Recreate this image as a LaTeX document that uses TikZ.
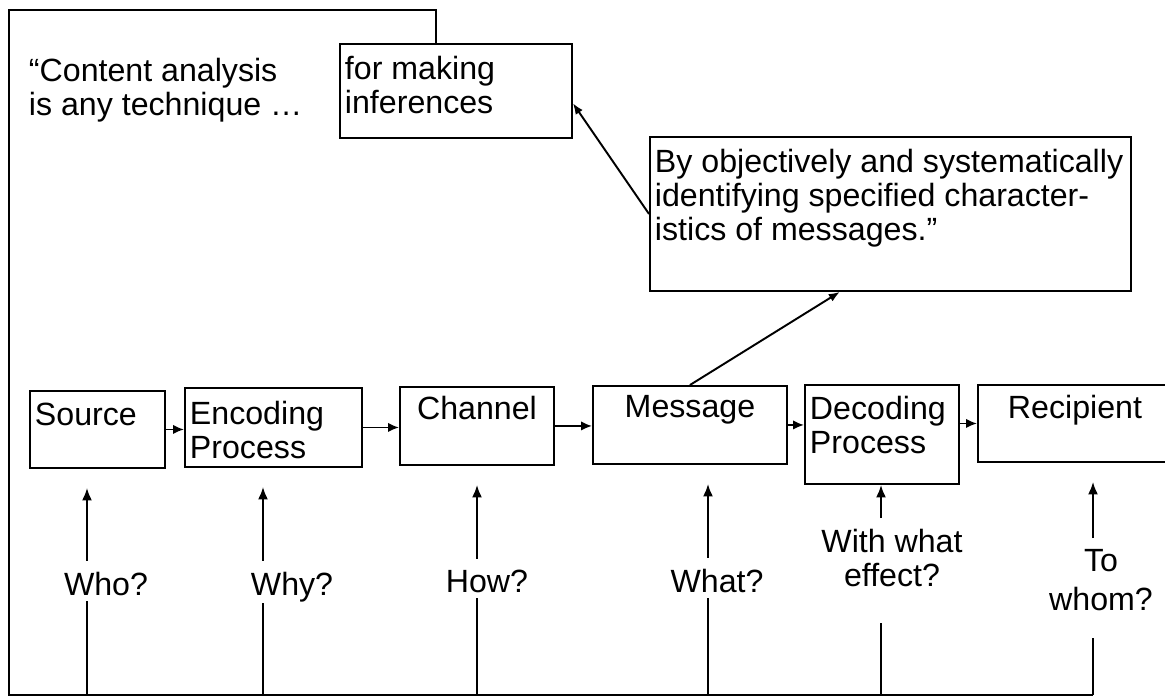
\documentclass[tikz,border=0pt]{standalone}
\usepackage{fontspec}
\setmainfont{Liberation Sans}
\usetikzlibrary{arrows.meta}

\begin{document}
\begin{tikzpicture}[x=0.02cm, y=-0.02cm, line width=1.1pt,
  font=\fontsize{18.3pt}{19.5pt}\selectfont,
  box/.style={draw, anchor=north west, inner sep=0pt},
  txt/.style={inner sep=0pt, align=left, anchor=north west},
  ask/.style={inner sep=0pt, align=center},
  flow/.style={-{Latex[length=0.22cm, width=0.19cm]}},
  tip/.style={-{Latex[length=0.22cm, width=0.17cm]}},
  uparrow/.style={-{Latex[length=0.25cm, width=0.2cm]}, shorten <=0.2cm, shorten >=0.38cm}]
\useasboundingbox (0,0) rectangle (1165,698);
\clip (0,0) rectangle (1165,698);

% quotation boxes
\node[txt] (defn) at (28,57) {“Content analysis\\is any technique \dots};
\node[box, minimum width=4.64cm, minimum height=1.88cm] (mk) at (339,43) {};
\node[txt] (mkt) at ([xshift=0.1cm, yshift=-0.24cm]mk.north west) {for making\\inferences};
\node[box, minimum width=9.62cm, minimum height=3.08cm] (obj) at (649,136) {};
\node[txt] (objt) at ([xshift=0.1cm, yshift=-0.24cm]obj.north west) {By objectively and systematically\\identifying specified character-\\istics of messages.”};

% communication chain
\node[box, minimum width=2.70cm, minimum height=1.54cm] (src) at (29,390) {};
\node[box, minimum width=3.54cm, minimum height=1.58cm] (enc) at (184,387) {};
\node[box, minimum width=3.08cm, minimum height=1.56cm] (chn) at (399,386) {};
\node[box, minimum width=3.88cm, minimum height=1.56cm] (msg) at (592,385) {};
\node[box, minimum width=3.08cm, minimum height=1.98cm] (dec) at (804,384) {};
\node[box, minimum width=4.40cm, minimum height=1.54cm] (rcp) at (977,384) {};
\node[txt] (srct) at ([xshift=0.1cm, yshift=-0.24cm]src.north west) {Source};
\node[txt] (enct) at ([xshift=0.1cm, yshift=-0.26cm]enc.north west) {Encoding\\Process};
\node[txt, anchor=north] (chnt) at ([yshift=-0.18cm]chn.north) {Channel};
\node[txt, anchor=north] (msgt) at ([yshift=-0.18cm]msg.north) {Message};
\node[txt] (dect) at ([xshift=0.1cm, yshift=-0.22cm]dec.north west) {Decoding\\Process};
\node[txt, anchor=north] (rcpt) at ([xshift=-0.26cm, yshift=-0.2cm]rcp.north) {Recipient};

\draw[flow] (src.east) -- (src.east -| enc.west);
\draw[flow] (enc.east) -- (enc.east -| chn.west);
\draw[flow] (chn.east) -- (chn.east -| msg.west);
\draw[flow] (msg.east) -- (msg.east -| dec.west);
\draw[flow] (rcp.west -| dec.east) -- (rcp.west);
\draw[tip] (obj.west) -- (mk.-6);
\draw[tip] (msg.north) -- (obj.237);

% questions
\node[ask, anchor=base] (who) at (106,595) {Who?};
\node[ask, anchor=base] (why) at (292,595) {Why?};
\node[ask, anchor=base] (how) at (487,592) {How?};
\node[ask, anchor=base] (what) at (717,592) {What?};
\node[ask, anchor=north] (eff) at (892,528) {With what\\effect?};
\node[ask, anchor=north] (whom) at (1101,548) {To\\[0.1cm]whom?};

\coordinate (fwho) at (87,695);
\coordinate (fwhy) at (263,695);
\coordinate (fhow) at (477,695);
\coordinate (fwhat) at (708,695);
\coordinate (feff) at (881,695);
\coordinate (fwhom) at (1093,695);
\coordinate (cbl) at (9,695);
\coordinate (ctl) at (9,10);
\coordinate (ctr) at (436,10);

\draw[uparrow] (who.north -| fwho) -- (src.south -| fwho);
\draw[uparrow] (why.north -| fwhy) -- (enc.south -| fwhy);
\draw[uparrow] (how.north -| fhow) -- (chn.south -| fhow);
\draw[uparrow] (what.north -| fwhat) -- (msg.south -| fwhat);
\draw[uparrow, shorten >=0pt] (eff.north -| feff) -- (dec.south -| feff);
\draw[uparrow] (whom.north -| fwhom) -- (rcp.south -| fwhom);

\draw[shorten >=0.1cm] (fwho) -- (who.south -| fwho);
\draw (fwhy) -- (why.south -| fwhy);
\draw[shorten >=0.1cm] (fhow) -- (how.south -| fhow);
\draw[shorten >=0.1cm] (fwhat) -- (what.south -| fwhat);
\draw[shorten >=0.7cm] (feff) -- (eff.south -| feff);
\draw[shorten >=0.52cm] (fwhom) -- (whom.south -| fwhom);

% frame
\draw (fwhom) -- (cbl) -- (ctl) -- (ctr) -- (ctr |- mk.north);
\end{tikzpicture}
\end{document}
